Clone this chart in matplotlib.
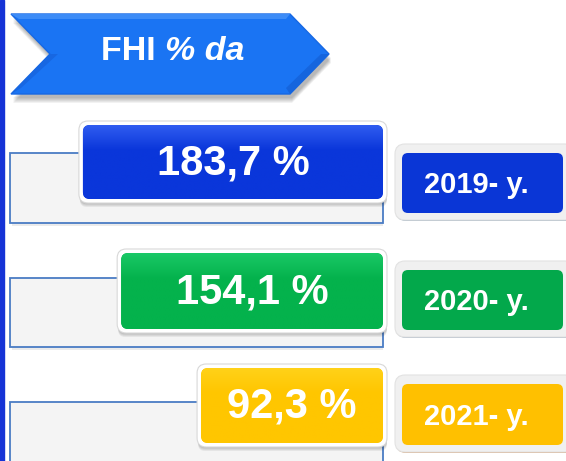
import matplotlib
matplotlib.use("Agg")
import matplotlib.pyplot as plt
import numpy as np
from matplotlib.patches import FancyBboxPatch, Polygon, Rectangle
from matplotlib.colors import LinearSegmentedColormap

# ---- data ----
years = ["2019- y.", "2020- y.", "2021- y."]
values = [183.7, 154.1, 92.3]
value_labels = ["183,7 %", "154,1 %", "92,3 %"]
title_main = "FHI "
title_ital = "% da"

# ---- style ----
bar_colors = [("#2f5cf0", "#0a36da"), ("#19c866", "#04b24c"), ("#ffd21a", "#ffc600")]
year_colors = ["#0a36d6", "#03a84b", "#ffc000"]
year_shadow = ["#9fb2c2", "#a8b6c6", "#d7a77c"]
pad_units = 48.4          # visual padding added to each bar length
row_top = [125, 253, 368]
row_bot = [199, 329, 443]
outline_top = [153, 278, 402]
outline_bot = [223, 347, 475]
year_inner = [(153, 213), (270, 330), (384, 445)]

W, H = 566, 461
fig = plt.figure(figsize=(W / 100, H / 100), dpi=100)
fig.patch.set_facecolor("white")
ax = fig.add_axes([0, 0, 1, 1])
ax.set_xlim(0, W)
ax.set_ylim(H, 0)
ax.axis("off")

# value axis: bars grow leftwards from a common right edge
axv = fig.add_axes([0, 0, 1, 1], zorder=3)
px_per_unit = 1.293
right_px = 383
axv.set_xlim(right_px / px_per_unit, -(W - right_px) / px_per_unit)
axv.set_ylim(H, 0)
axv.axis("off")
axv.patch.set_alpha(0)

# left vertical line
ax.add_patch(Rectangle((0, 0), 4, H, color="#1533d6", zorder=5))

# banner arrow
bx0, bx1, btip, bnotch, by0, by1 = 11, 290, 329, 50, 14, 94
bmid = (by0 + by1) / 2
for i in range(6):
    ax.add_patch(Polygon([(bx0 + 2, by0 + 4 + i), (bx1 + 2, by0 + 4 + i), (btip + 2, bmid + 4 + i),
                          (bx1 + 2, by1 + 4 + i), (bx0 + 2, by1 + 4 + i), (bnotch + 2, bmid + 4 + i)],
                         closed=True, color="#000000", alpha=0.05, lw=0, zorder=1))
banner = Polygon([(bx0, by0), (bx1, by0), (btip, bmid), (bx1, by1), (bx0, by1), (bnotch, bmid)],
                 closed=True, facecolor="#1a74f3", edgecolor="#1668e4", lw=1, zorder=2)
ax.add_patch(banner)
# bevel faces
ax.add_patch(Polygon([(bx0, by1), (bnotch, bmid), (bnotch + 8, bmid), (bx0 + 10, by1 - 6)],
                     closed=True, color="#1767e2", lw=0, zorder=2.1))
ax.add_patch(Polygon([(bx1, by1), (btip, bmid), (btip - 8, bmid), (bx1 - 4, by1 - 6)],
                     closed=True, color="#1565de", lw=0, zorder=2.1))
ax.add_patch(Polygon([(bx0, by0), (bx1, by0), (bx1 - 4, by0 + 5), (bx0 + 8, by0 + 5)],
                     closed=True, color="#3d8cf7", lw=0, zorder=2.1))
t1 = ax.text(101, 52, title_main, color="white", fontsize=24.5, fontweight="bold",
             family="Liberation Sans", ha="left", va="center", zorder=4)
fig.canvas.draw()
bb = t1.get_window_extent()
x_end = bb.x1
ax.text(x_end, 52, title_ital, color="white", fontsize=24.5, fontweight="bold", fontstyle="italic",
        family="Liberation Sans", ha="left", va="center", zorder=4)

aspect = px_per_unit

for i, (yr, v, lab) in enumerate(zip(years, values, value_labels)):
    # outline box (pixel axes)
    ax.add_patch(Rectangle((12, outline_bot[i]), 371, 3, color="#000000", alpha=0.08, lw=0, zorder=1))
    ax.add_patch(Rectangle((10, outline_top[i]), 373, outline_bot[i] - outline_top[i],
                           facecolor="#f4f4f4", edgecolor="#4a7cc4", lw=1.3, zorder=1.5))

    # colored bar in value axes
    length = v + pad_units
    t, b = row_top[i], row_bot[i]
    r = 7 / px_per_unit
    # shadow
    for k in range(4):
        axv.add_patch(FancyBboxPatch((-1 / px_per_unit, t + 2 + k), length + 1 / px_per_unit, b - t,
                                     boxstyle=f"round,pad={3/px_per_unit},rounding_size={r}",
                                     mutation_aspect=aspect, facecolor="black", alpha=0.06, lw=0, zorder=2))
    # white border
    axv.add_patch(FancyBboxPatch((0, t), length, b - t,
                                 boxstyle=f"round,pad={4/px_per_unit},rounding_size={r*1.3}",
                                 mutation_aspect=aspect, facecolor="white", edgecolor="#d8d8d8",
                                 lw=0.8, zorder=3))
    col = FancyBboxPatch((0, t), length, b - t,
                         boxstyle=f"round,pad=0,rounding_size={r}",
                         mutation_aspect=aspect, facecolor=bar_colors[i][1], lw=0, zorder=4)
    axv.add_patch(col)
    cmap = LinearSegmentedColormap.from_list("g", [bar_colors[i][0], bar_colors[i][1],
                                                   bar_colors[i][1], bar_colors[i][1]])
    grad = np.linspace(0, 1, 64).reshape(-1, 1)
    im = axv.imshow(grad, cmap=cmap, aspect="auto", extent=(0, length, b, t), zorder=4.5,
                    interpolation="bilinear")
    im.set_clip_path(col)
    axv.set_xlim(right_px / px_per_unit, -(W - right_px) / px_per_unit)
    axv.set_ylim(H, 0)
    axv.text(length / 2, (t + b) / 2 + 1, lab, color="white", fontsize=30, fontweight="bold",
             family="Liberation Sans", ha="center", va="center", zorder=6)

    # year box (pixel axes)
    yt, yb = year_inner[i]
    ax.add_patch(FancyBboxPatch((396, yt - 6), 180, yb - yt + 14,
                                boxstyle="round,pad=0,rounding_size=10",
                                facecolor=year_shadow[i], lw=0, zorder=2))
    ax.add_patch(FancyBboxPatch((395, yt - 9), 180, yb - yt + 16,
                                boxstyle="round,pad=0,rounding_size=10",
                                facecolor="#f0f0f0", edgecolor="#e2e2e2", lw=0.8, zorder=2.5))
    ax.add_patch(FancyBboxPatch((402, yt), 161, yb - yt,
                                boxstyle="round,pad=0,rounding_size=6",
                                facecolor=year_colors[i], lw=0, zorder=3))
    ax.text(476, (yt + yb) / 2 + 2, yr, color="white", fontsize=21, fontweight="bold",
            family="Liberation Sans", ha="center", va="center", zorder=4)

fig.savefig("out.png", dpi=100, facecolor="white")
